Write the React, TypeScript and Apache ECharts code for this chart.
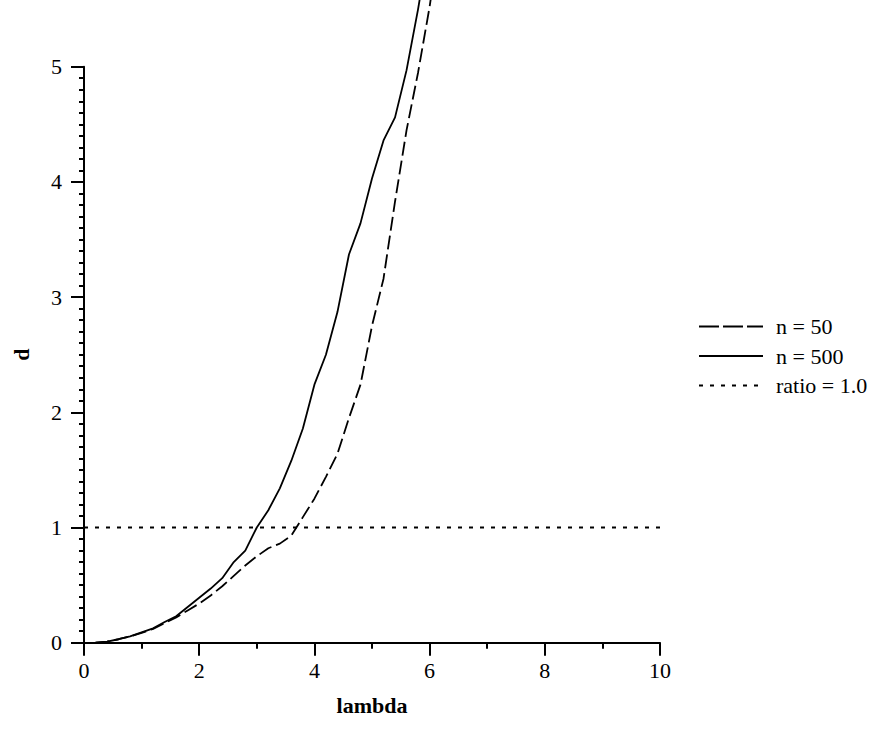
import React, { useEffect, useRef } from "react";
import * as echarts from "echarts";

const lambdaValues = [0.2, 0.4, 0.6, 0.8, 1.0, 1.2, 1.4, 1.6, 1.8, 2.0, 2.2, 2.4, 2.6, 2.8, 3.0, 3.2, 3.4, 3.6, 3.8, 4.0, 4.2, 4.4, 4.6, 4.8, 5.0, 5.2, 5.4, 5.6, 5.8, 6.0, 6.2];
const dN50 = [0, 0.01, 0.03, 0.055, 0.085, 0.12, 0.17, 0.22, 0.28, 0.34, 0.41, 0.49, 0.58, 0.67, 0.75, 0.82, 0.86, 0.93, 1.09, 1.25, 1.44, 1.64, 1.95, 2.24, 2.75, 3.16, 3.83, 4.45, 4.95, 5.52, 6.2];
const dN500 = [0, 0.01, 0.03, 0.055, 0.09, 0.125, 0.18, 0.23, 0.31, 0.39, 0.47, 0.56, 0.7, 0.8, 1.0, 1.15, 1.34, 1.58, 1.86, 2.24, 2.5, 2.87, 3.37, 3.64, 4.03, 4.36, 4.56, 4.97, 5.5, 6.1, 6.7];
const ratioX = [0, 10];
const ratioY = [1.0, 1.0];
const seriesNames = ["n = 50", "n = 500", "ratio = 1.0"];
const xTitle = "lambda";
const yTitle = "d";

const FONT = "'Liberation Serif', 'Times New Roman', serif";

export default function App() {
  const ref = useRef<HTMLDivElement>(null);
  useEffect(() => {
    if (!ref.current) return;
    const chart = echarts.init(ref.current, undefined, { renderer: "svg" });
    const pair = (xs: number[], ys: number[]) => xs.map((x, i) => [x, ys[i]]);
    chart.setOption({
      animation: false,
      backgroundColor: "#fff",
      grid: { left: 84, right: 218, top: 66.7, bottom: 86.3, containLabel: false },
      legend: {
        orient: "vertical",
        left: 698,
        top: 315.5,
        padding: 0,
        itemWidth: 64,
        itemHeight: 14,
        itemGap: 7.5,
        itemStyle: { opacity: 0 },
        textStyle: { fontFamily: FONT, fontSize: 22, color: "#000", lineHeight: 22, padding: [0, 0, 0, 8] },
        data: [
          { name: seriesNames[0], lineStyle: { type: [20, 4], width: 1.8, color: "#000" } },
          { name: seriesNames[1] },
          { name: seriesNames[2] },
        ],
        selectedMode: false,
      },
      xAxis: {
        type: "value",
        min: 0,
        max: 10,
        interval: 2,
        name: xTitle,
        nameLocation: "middle",
        nameGap: 52,
        nameTextStyle: { fontFamily: FONT, fontSize: 22, fontWeight: "bold", color: "#000" },
        axisLine: { show: true, onZero: false, lineStyle: { color: "#000", width: 2 } },
        axisTick: { show: true, inside: false, length: 13, lineStyle: { color: "#000", width: 2 } },
        minorTick: { show: true, splitNumber: 2, length: 6, lineStyle: { color: "#000", width: 2 } },
        axisLabel: { margin: 17, fontFamily: FONT, fontSize: 22, color: "#000" },
        splitLine: { show: false },
      },
      yAxis: {
        type: "value",
        min: 0,
        max: 5,
        interval: 1,
        name: yTitle,
        nameLocation: "middle",
        nameGap: 52,
        nameRotate: 90,
        nameTextStyle: { fontFamily: FONT, fontSize: 22, fontWeight: "bold", color: "#000" },
        axisLine: { show: true, onZero: false, lineStyle: { color: "#000", width: 2 } },
        axisTick: { show: true, inside: false, length: 13, lineStyle: { color: "#000", width: 2 } },
        minorTick: { show: true, splitNumber: 10, length: 5, lineStyle: { color: "#000", width: 2 } },
        axisLabel: { margin: 22, fontFamily: FONT, fontSize: 22, color: "#000" },
        splitLine: { show: false },
      },
      series: [
        {
          name: seriesNames[0],
          type: "line",
          data: pair(lambdaValues, dN50),
          symbol: "none",
          clip: false,
          lineStyle: { color: "#000", width: 1.8, type: [14, 5] },
          itemStyle: { color: "#000" },
        },
        {
          name: seriesNames[1],
          type: "line",
          data: pair(lambdaValues, dN500),
          symbol: "none",
          clip: false,
          lineStyle: { color: "#000", width: 1.8, type: "solid" },
          itemStyle: { color: "#000" },
        },
        {
          name: seriesNames[2],
          type: "line",
          data: pair(ratioX, ratioY),
          symbol: "none",
          clip: false,
          lineStyle: { color: "#000", width: 1.8, type: [4, 7] },
          itemStyle: { color: "#000" },
        },
      ],
    });
    return () => chart.dispose();
  }, []);
  return (
    <div
      ref={ref}
      style={{ position: "fixed", left: 0, top: 0, width: 878, height: 729, background: "#fff" }}
    />
  );
}
